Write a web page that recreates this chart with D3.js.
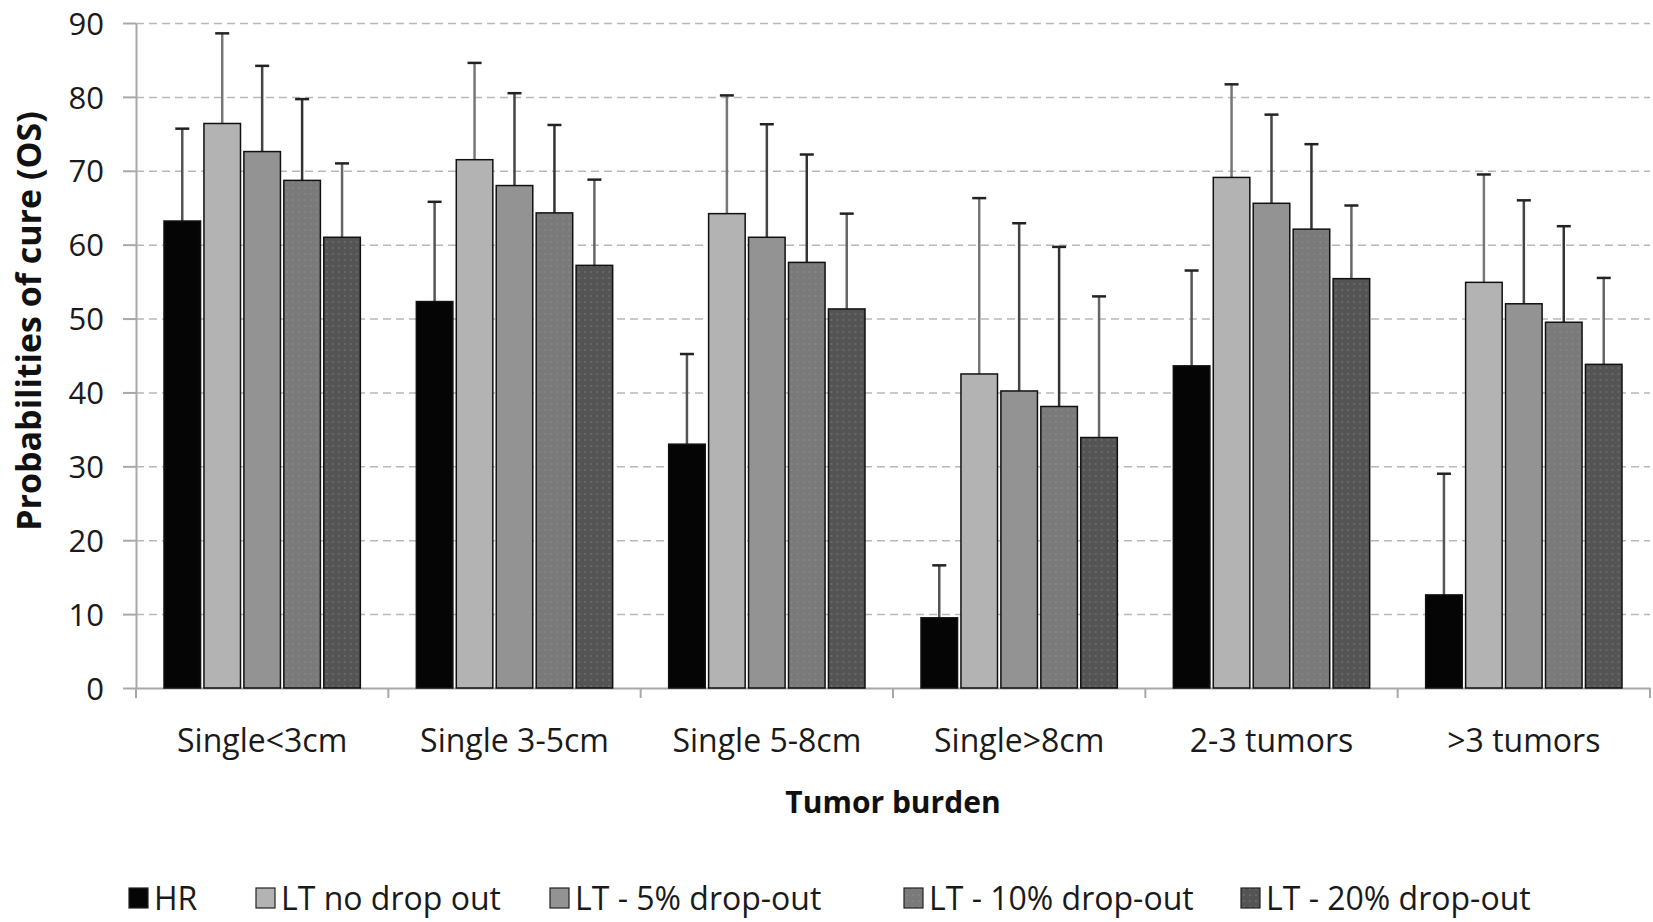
<!DOCTYPE html>
<html lang="en">
<head>
<meta charset="UTF-8">
<title>Probabilities of cure</title>
<script src="https://d3js.org/d3.v7.min.js"></script>
<style>
    body { margin: 0; background: #fff; }
    svg { display: block; font-family: "Open Sans", Arial, sans-serif; }
    .grid line { stroke: #b8b8b8; stroke-width: 1.5; stroke-dasharray: 8 5; }
    .grid path { stroke-width: 0; }
    .axis path, .axis line { stroke: #a8a8a8; stroke-width: 2; }
    .axis text { fill: #1a1a1a; font-family: "Open Sans", Arial, sans-serif; }
    .y-axis text { font-size: 31px; }
    .x-axis text { font-size: 32px; }
    .title { font-weight: bold; fill: #111; }
    .legend text { font-size: 32px; fill: #1a1a1a; }
</style>
</head>
<body>
<div id="chart"></div>
<script>
    const categories = ["Single<3cm", "Single 3-5cm", "Single 5-8cm", "Single>8cm", "2-3 tumors", ">3 tumors"];
    const series = ["HR", "LT no drop out", "LT - 5% drop-out", "LT - 10% drop-out", "LT - 20% drop-out"];
    const yTicks = [0, 10, 20, 30, 40, 50, 60, 70, 80, 90];

    // bar heights per series, one value per category
    const hrValues   = [63.2, 52.3, 33.0,  9.5, 43.6, 12.6];
    const lt0Values  = [76.4, 71.5, 64.2, 42.5, 69.1, 54.9];
    const lt5Values  = [72.6, 68.0, 61.0, 40.2, 65.6, 52.0];
    const lt10Values = [68.7, 64.3, 57.6, 38.1, 62.1, 49.5];
    const lt20Values = [61.0, 57.2, 51.3, 33.9, 55.4, 43.8];

    // top of the error bars
    const hrUpper   = [75.7, 65.8, 45.2, 16.6, 56.5, 29.0];
    const lt0Upper  = [88.6, 84.6, 80.2, 66.3, 81.7, 69.5];
    const lt5Upper  = [84.2, 80.5, 76.3, 62.9, 77.6, 66.0];
    const lt10Upper = [79.7, 76.2, 72.2, 59.7, 73.6, 62.5];
    const lt20Upper = [71.0, 68.8, 64.2, 53.0, 65.3, 55.5];

    const values = [hrValues, lt0Values, lt5Values, lt10Values, lt20Values];
    const uppers = [hrUpper, lt0Upper, lt5Upper, lt10Upper, lt20Upper];
    const colors = ["#050505", "#b3b3b3", "#939393", "#7a7a7a", "#545454"];
    const errColors = ["#555", "#777", "#444", "#333", "#666"];

    const W = 1653, H = 922;
    const margin = { top: 23, right: 3, bottom: 234, left: 136 };
    const width = W - margin.left - margin.right;
    const height = H - margin.top - margin.bottom;

    const rows = [];
    categories.forEach((c, i) => {
        series.forEach((s, j) => {
            rows.push({ cat: c, s: s, si: j, v: values[j][i], up: uppers[j][i] });
        });
    });

    const root = d3.select("#chart").append("svg")
        .attr("width", W).attr("height", H);

    // dotted fills for the darker series
    const defs = root.append("defs");
    colors.forEach((col, j) => {
        const p = defs.append("pattern")
            .attr("id", "pat" + j)
            .attr("width", 6).attr("height", 6)
            .attr("patternUnits", "userSpaceOnUse");
        p.append("rect").attr("width", 6).attr("height", 6).attr("fill", col);
        if (j >= 3) {
            p.append("circle").attr("cx", 3).attr("cy", 3).attr("r", 0.8)
                .attr("fill", "#9a9a9a").attr("opacity", 0.6);
        }
    });

    const svg = root.append("g")
        .attr("transform", `translate(${margin.left},${margin.top})`);

    const x0 = d3.scaleBand().domain(categories).range([0, width]);
    const x1 = d3.scaleBand().domain(series)
        .range([28, x0.bandwidth() - 28])
        .paddingInner(0.085);
    const y = d3.scaleLinear().domain([0, 90]).range([height, 0]);

    svg.append("g")
        .attr("class", "grid")
        .call(d3.axisLeft(y).tickValues(yTicks.slice(1)).tickSize(-width).tickFormat(""));

    svg.append("g")
        .attr("class", "axis y-axis")
        .call(d3.axisLeft(y).tickValues(yTicks).tickSize(13).tickPadding(19).tickSizeOuter(0))
        .selectAll("text").attr("dy", "0.36em");

    const xAxis = svg.append("g")
        .attr("class", "axis x-axis")
        .attr("transform", `translate(0,${height})`)
        .call(d3.axisBottom(x0).tickSize(0).tickPadding(41).tickSizeOuter(0));

    // category boundary ticks
    xAxis.selectAll(".bound")
        .data(categories.concat([null]))
        .join("line")
        .attr("class", "bound")
        .attr("x1", (d, i) => i < categories.length ? x0(d) : width)
        .attr("x2", (d, i) => i < categories.length ? x0(d) : width)
        .attr("y1", 0).attr("y2", 10);

    const groups = svg.append("g").selectAll("g")
        .data(rows)
        .join("g")
        .attr("transform", d => `translate(${x0(d.cat) + x1(d.s)},0)`);

    // error bars behind the bars
    groups.append("line")
        .attr("x1", x1.bandwidth() / 2).attr("x2", x1.bandwidth() / 2)
        .attr("y1", d => y(d.v)).attr("y2", d => y(d.up))
        .attr("stroke", d => errColors[d.si]).attr("stroke-width", 2.5);
    groups.append("line")
        .attr("x1", x1.bandwidth() / 2 - 7).attr("x2", x1.bandwidth() / 2 + 7)
        .attr("y1", d => y(d.up)).attr("y2", d => y(d.up))
        .attr("stroke", "#222").attr("stroke-width", 2.5);

    groups.append("rect")
        .attr("x", 0)
        .attr("y", d => y(d.v))
        .attr("width", x1.bandwidth())
        .attr("height", d => height - y(d.v))
        .attr("fill", d => `url(#pat${d.si})`)
        .attr("stroke", "#111").attr("stroke-width", 1.5);

    // axis titles
    svg.append("text")
        .attr("class", "title")
        .attr("font-size", 34)
        .attr("transform", `translate(${29 - margin.left},${321 - margin.top}) rotate(-90)`)
        .attr("text-anchor", "middle")
        .attr("dy", "0.35em")
        .text("Probabilities of cure (OS)");

    svg.append("text")
        .attr("class", "title")
        .attr("font-size", 30)
        .attr("x", width / 2).attr("y", 802 - margin.top)
        .attr("text-anchor", "middle").attr("dy", "0.35em")
        .text("Tumor burden");

    // legend
    const legendX = [129, 256, 550, 904, 1241];
    const legend = root.append("g").attr("class", "legend")
        .selectAll("g").data(series).join("g")
        .attr("transform", (d, i) => `translate(${legendX[i]},898)`);
    legend.append("rect")
        .attr("x", 0).attr("y", -10).attr("width", 19).attr("height", 20)
        .attr("fill", (d, i) => `url(#pat${i})`)
        .attr("stroke", "#222").attr("stroke-width", 1.2);
    legend.append("text")
        .attr("x", 25).attr("dy", "0.36em")
        .text(d => d);
</script>
</body>
</html>
